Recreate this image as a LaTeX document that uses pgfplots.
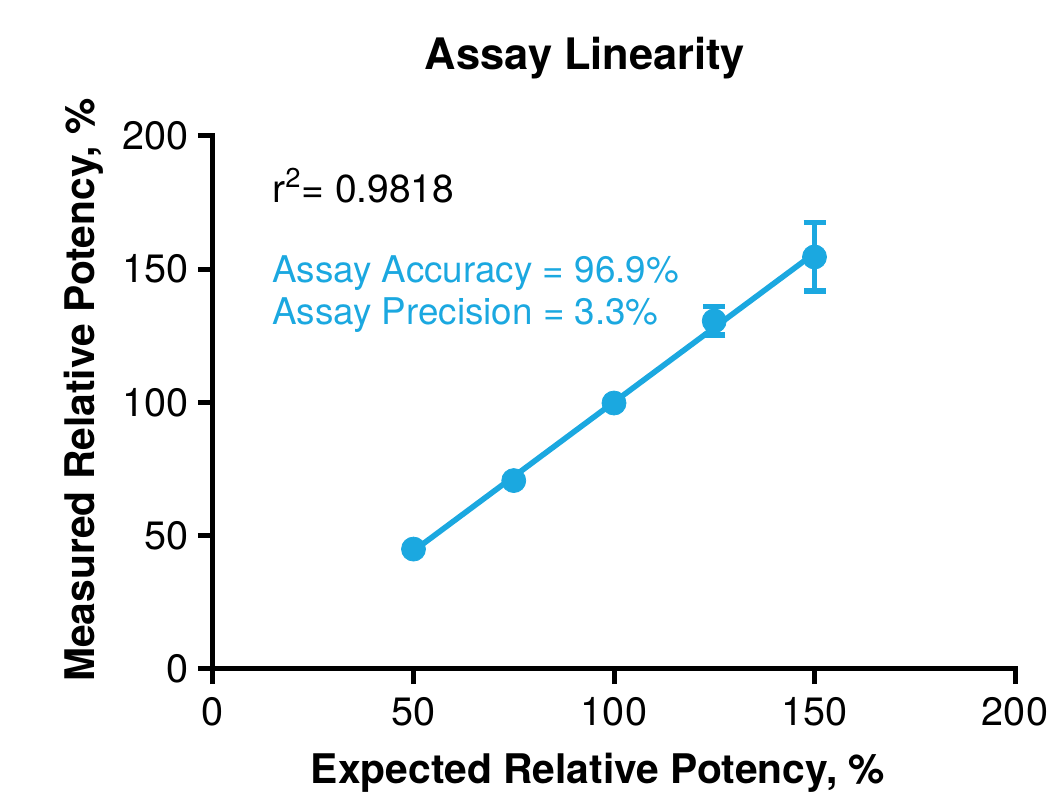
\documentclass[border=0pt]{standalone}
\usepackage{pgfplots}
\pgfplotsset{compat=1.18}
\usepackage{fontspec}
\setmainfont{TeX Gyre Heros}
\definecolor{cblue}{HTML}{1BA8E0}
\begin{document}
\begin{tikzpicture}
\begin{axis}[
  scale only axis,
  width=401pt, height=266.5pt,
  xmin=0, xmax=200, ymin=0, ymax=200,
  axis x line*=bottom, axis y line*=left,
  axis line style={line width=2.5pt, line cap=rect},
  xtick={0,50,100,150,200}, ytick={0,50,100,150,200},
  tick style={line width=2.5pt, black},
  tick align=outside, major tick length=7.5pt,
  /pgf/number format/assume math mode=true,
  ticklabel style={font=\fontsize{19.8}{22}\selectfont},
  xticklabel style={yshift=-3pt},
  yticklabel style={xshift=-1pt},
  clip=false,
]
\addplot[cblue, line width=2.8pt, no marks] coordinates {(50,44.3) (150,156)};
\addplot[cblue, only marks, mark=*, mark size=6pt, mark options={fill=cblue, draw=cblue},
  error bars/.cd, y dir=both, y explicit,
  error bar style={line width=2.6pt, cblue},
  error mark options={rotate=90, mark size=5.5pt, line width=2.6pt, cblue}]
  coordinates {
  (50,45) +- (0,0)
  (75,70.7) +- (0,0)
  (100,99.8) +- (0,0)
  (125,130.6) +- (0,5.3)
  (150,154.6) +- (0,12.8)
  };
\node[anchor=base west, inner sep=0pt, font=\fontsize{19.5}{22}\selectfont] at (axis cs:14.7,174.9) {r\textsuperscript{2}= 0.9818};
\node[anchor=base west, inner sep=0pt, text=cblue, font=\fontsize{18.4}{22}\selectfont] at (axis cs:14.7,145.2) {Assay Accuracy = 96.9\%};
\node[anchor=base west, inner sep=0pt, text=cblue, font=\fontsize{18.4}{22}\selectfont] at (axis cs:14.7,129.1) {Assay Precision = 3.3\%};
\end{axis}
\node[font=\fontsize{21.7}{24}\bfseries] at (186pt,305.5pt) {Assay Linearity};
\node[font=\fontsize{20.4}{24}\bfseries] at (192.5pt,-52pt) {Expected Relative Potency, \%};
\node[font=\fontsize{20.4}{24}\bfseries, rotate=90] at (-64.5pt,139.5pt) {Measured Relative Potency, \%};
\pgfresetboundingbox
\path[use as bounding box] (-106.5pt,-64pt) rectangle (423.5pt,334.5pt);
\end{tikzpicture}
\end{document}
